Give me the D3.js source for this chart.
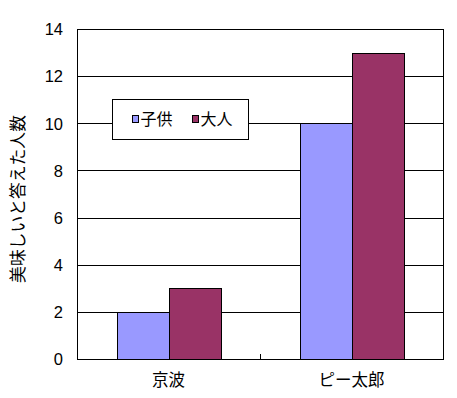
<!DOCTYPE html>
<html>
<head>
<meta charset="utf-8">
<title>Bar Chart</title>
<script src="https://cdnjs.cloudflare.com/ajax/libs/d3/7.8.5/d3.min.js"></script>
<style type="text/css">
body {
    margin: 0;
    background: #fff;
    font-family: "Noto Sans CJK JP", sans-serif;
}
.grid line {
    stroke: #000;
    shape-rendering: crispEdges;
}
</style>
</head>
<body>
<script>

// data
var categories = ["京波", "ピー太郎"];
var seriesNames = ["子供", "大人"];
var children = [2, 10];
var adults = [3, 13];
var yTicks = [0, 2, 4, 6, 8, 10, 12, 14];
var colors = ["#9999ff", "#993366"];

var width = 457, height = 398;
var plot = {left: 77, right: 443, top: 29, bottom: 359};

var svg = d3.select("body").append("svg")
    .attr("width", width)
    .attr("height", height);

var x = d3.scaleBand()
    .domain(categories)
    .range([plot.left, plot.right]);

var inner = d3.scaleBand()
    .domain(seriesNames)
    .range([0, x.bandwidth()])
    .paddingOuter(0.76);

var y = d3.scaleLinear()
    .domain([0, 14])
    .range([plot.bottom, plot.top]);

// gridlines
svg.append("g")
    .attr("class", "grid")
    .selectAll("line")
    .data(yTicks)
    .enter().append("line")
    .attr("x1", plot.left)
    .attr("x2", plot.right)
    .attr("y1", function(d) { return Math.round(y(d)) + 0.5; })
    .attr("y2", function(d) { return Math.round(y(d)) + 0.5; });

// bars
var series = [children, adults];
var groups = svg.selectAll(".series")
    .data(series)
    .enter().append("g")
    .attr("class", "series")
    .attr("fill", function(d, i) { return colors[i]; });

groups.selectAll("rect")
    .data(function(d, i) {
        return d.map(function(v, j) { return {cat: categories[j], s: seriesNames[i], v: v}; });
    })
    .enter().append("rect")
    .attr("x", function(d) { return Math.round(x(d.cat) + inner(d.s)) + 0.5; })
    .attr("width", function(d) { return Math.round(inner.bandwidth()); })
    .attr("y", function(d) { return Math.round(y(d.v)) + 0.5; })
    .attr("height", function(d) { return Math.round(y(0)) - Math.round(y(d.v)); })
    .attr("stroke", "#000")
    .attr("stroke-width", 1);

// frame
svg.append("rect")
    .attr("x", plot.left + 0.5)
    .attr("y", plot.top + 0.5)
    .attr("width", plot.right - plot.left)
    .attr("height", plot.bottom - plot.top)
    .attr("fill", "none")
    .attr("stroke", "#000");

// y axis labels
var yAxis = d3.axisLeft(y)
    .tickValues(yTicks)
    .tickSize(0)
    .tickPadding(14);

var yg = svg.append("g")
    .attr("transform", "translate(" + plot.left + ",0.5)")
    .call(yAxis);
yg.select(".domain").remove();
yg.selectAll("text")
    .attr("font-size", 16.5)
    .attr("font-family", "'Liberation Sans', Arial, sans-serif")
    .attr("fill", "#000");

// x axis
var xAxis = d3.axisBottom(x)
    .tickSize(0)
    .tickPadding(15);

var xg = svg.append("g")
    .attr("transform", "translate(0," + plot.bottom + ")")
    .call(xAxis);
xg.select(".domain").remove();
xg.selectAll("text")
    .attr("font-size", 16.5)
    .attr("font-family", "'Noto Sans CJK JP', sans-serif")
    .attr("fill", "#000");

// tick between categories
svg.append("line")
    .attr("x1", x(categories[1]) + 0.5)
    .attr("x2", x(categories[1]) + 0.5)
    .attr("y1", plot.bottom)
    .attr("y2", plot.bottom - 5)
    .attr("stroke", "#000");

// y title
svg.append("text")
    .attr("transform", "translate(18," + ((plot.top + plot.bottom) / 2 + 5) + ") rotate(-90)")
    .attr("text-anchor", "middle")
    .attr("dy", "0.36em")
    .attr("font-size", 16.8)
    .attr("fill", "#000")
    .text("美味しいと答えた人数");

// legend
var legend = svg.append("g").attr("transform", "translate(112.5,99.5)");
legend.append("rect")
    .attr("width", 136)
    .attr("height", 40)
    .attr("fill", "#fff")
    .attr("stroke", "#000");

var items = legend.selectAll(".item")
    .data(seriesNames)
    .enter().append("g")
    .attr("class", "item")
    .attr("transform", function(d, i) { return "translate(" + (20 + i * 60) + ",16)"; });

items.append("rect")
    .attr("width", 6)
    .attr("height", 7)
    .attr("fill", function(d, i) { return colors[i]; })
    .attr("stroke", "#000");

items.append("text")
    .attr("x", 8)
    .attr("y", 4)
    .attr("dy", "0.36em")
    .attr("font-size", 16)
    .attr("fill", "#000")
    .text(function(d) { return d; });

</script>
</body>
</html>
